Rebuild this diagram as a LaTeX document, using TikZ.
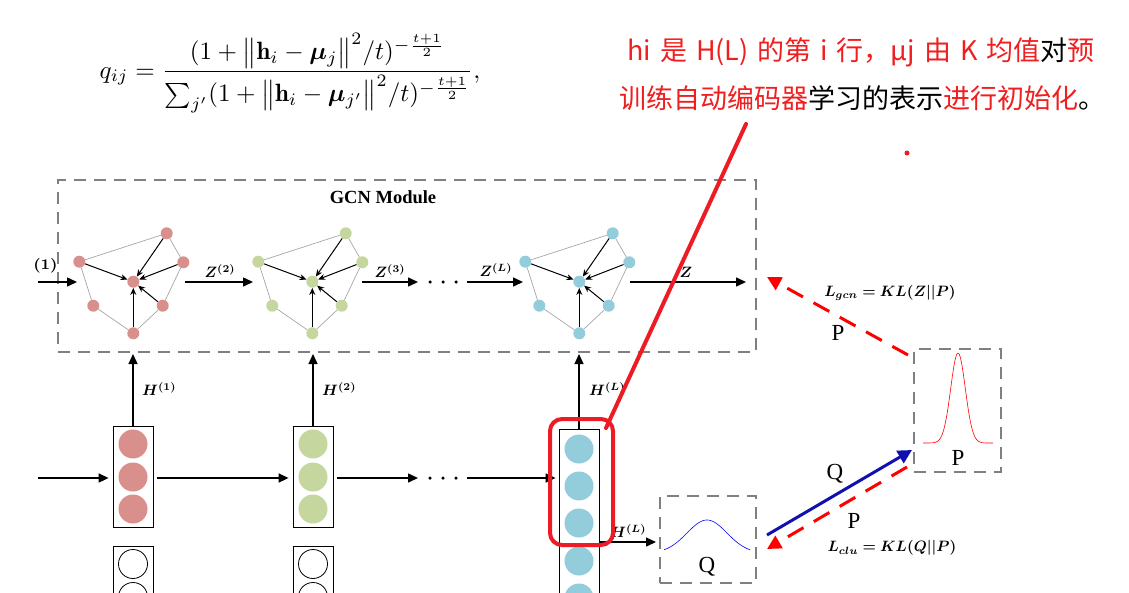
\documentclass[tikz,border=0pt]{standalone}
\usepackage{amsmath,bm,graphicx}
\usepackage{fontspec}
\newfontfamily\cjk{Noto Sans CJK SC}
\newfontfamily\tnr{Liberation Serif}
\usetikzlibrary{arrows.meta}
\definecolor{gnR}{RGB}{217,144,140}
\definecolor{gnG}{RGB}{197,215,159}
\definecolor{gnB}{RGB}{147,205,219}
\definecolor{dgray}{RGB}{128,128,128}
\definecolor{mred}{RGB}{237,28,36}
\definecolor{tred}{RGB}{240,30,30}
\definecolor{qblue}{RGB}{16,16,176}
\tikzset{
 gn/.style={circle,inner sep=0pt,minimum size=12pt,draw=none},
 gedge/.style={draw=black!35,line width=0.7pt},
 garr/.style={black,line width=1pt,-{Stealth[length=7pt,width=6pt]}},
 marr/.style={black,line width=1.5pt,-{Triangle[length=10pt,width=9pt]}},
 colbox/.style={draw=black,line width=0.8pt,fill=white,minimum width=40pt,inner sep=0pt},
 cfill/.style={circle,inner sep=0pt,minimum size=29pt},
 cempty/.style={circle,draw=black,line width=0.8pt,inner sep=0pt,minimum size=29pt},
 dbox/.style={draw=dgray,line width=2pt,dash pattern=on 12pt off 8pt,inner sep=0pt},
 lab/.style={inner sep=0pt},
 hlab/.style={inner sep=0pt,anchor=west},
 kl/.style={inner sep=0pt},
 pq/.style={inner sep=0pt,font=\tnr\fontsize{23}{26}\selectfont},
 rdash/.style={draw=red,line width=3pt,dash pattern=on 18pt off 12pt,-{Triangle[length=14pt,width=14pt]}},
 bluearr/.style={draw=qblue,line width=3pt,-{Triangle[length=14pt,width=14pt]}},
 dotn/.style={circle,fill=black,inner sep=0pt,minimum size=3.5pt},
 cjktext/.style={inner sep=0pt,anchor=west,text=tred,font=\cjk\fontsize{27}{30}\selectfont},
}
\newcommand{\gcngraph}[3]{%
 \node[gn,fill=#3] (#1t) at ({#2+166.7},233.3) {};
 \node[gn,fill=#3] (#1r) at ({#2+183.3},262.3) {};
 \node[gn,fill=#3] (#1l) at ({#2+79.3},261.7) {};
 \node[gn,fill=#3] (#1c) at ({#2+133.3},281.7) {};
 \node[gn,fill=#3] (#1bl) at ({#2+93.3},305.7) {};
 \node[gn,fill=#3] (#1br) at ({#2+162.7},305.7) {};
 \node[gn,fill=#3] (#1b) at ({#2+133.3},333.3) {};
 \draw[gedge] (#1l)--(#1t) (#1t)--(#1r) (#1r)--(#1br) (#1br)--(#1b) (#1b)--(#1bl) (#1bl)--(#1l);
 \foreach \s in {l,t,r,br,b} \draw[garr] (#1\s)--(#1c);
}
\newcommand{\wsp}{\hspace{9pt}}
\newcommand{\bml}[1]{\scalebox{1.5}{$\boldsymbol{#1}$}}
\begin{document}
\begin{tikzpicture}[x=1pt,y=-1pt]
\useasboundingbox (0,0) rectangle (1129,592);
\clip (0,0) rectangle (1129,592);

% formula
\node[inner sep=0pt] (formula) at (290,73)
 {\scalebox{2.5}{$\displaystyle q_{ij}=\frac{(1+\bigl\|\mathbf{h}_i-\boldsymbol{\mu}_j\bigr\|^2/t)^{-\frac{t+1}{2}}}{\sum\nolimits_{j'}(1+\bigl\|\mathbf{h}_i-\boldsymbol{\mu}_{j'}\bigr\|^2/t)^{-\frac{t+1}{2}}},$}};

% annotation text
\node[cjktext] (t1) at (627,52) {hi\wsp 是\wsp H(L)\wsp 的第\wsp i\wsp 行，μj\wsp 由\wsp K\wsp 均值\textcolor{black}{对}预};
\node[cjktext] (t2) at (619,98) {训练自动编码器\textcolor{black}{学习的表示}进行初始化\textcolor{black}{。}};

% GCN module box
\node[dbox,minimum width=698pt,minimum height=172pt] (gcn) at (407,266) {};
\node[inner sep=0pt,font=\tnr\bfseries\fontsize{18.5}{20}\selectfont] (gcnlab) at (383,197) {GCN Module};

\gcngraph{ga}{0}{gnR}
\gcngraph{gb}{179}{gnG}
\gcngraph{gc}{446}{gnB}

% Z arrows
\coordinate (z0s) at (38,282); \coordinate (z0e) at (77,282);
\coordinate (z1s) at (185,282); \coordinate (z1e) at (253,282);
\coordinate (z2s) at (362,282); \coordinate (z2e) at (418,282);
\coordinate (z3s) at (467,282); \coordinate (z3e) at (523,282);
\coordinate (z4s) at (630,282); \coordinate (z4e) at (746,282);
\draw[marr] (z0s)--(z0e);
\draw[marr] (z1s)--(z1e);
\draw[marr] (z2s)--(z2e);
\draw[marr] (z3s)--(z3e);
\draw[marr] (z4s)--(z4e);
\node[lab] (lz1) at (46,268) {\scalebox{2.1}{$\boldsymbol{{}^{(1)}}$}};
\node[lab] (lz2) at (220,271) {\bml{Z^{(2)}}};
\node[lab] (lz3) at (390,271) {\bml{Z^{(3)}}};
\node[lab] (lzl) at (496,270) {\bml{Z^{(L)}}};
\node[lab] (lz) at (686,272) {\bml{Z}};
\node[dotn] (ud1) at (430,282) {};
\node[dotn] (ud2) at (443,282) {};
\node[dotn] (ud3) at (456,282) {};

% column boxes
\node[colbox,minimum height=101pt] (b1) at (133,476.5) {};
\node[cfill,fill=gnR] (b1c1) at (133,444) {};
\node[cfill,fill=gnR] (b1c2) at (133,477) {};
\node[cfill,fill=gnR] (b1c3) at (133,509) {};
\node[colbox,minimum height=101pt] (b2) at (313,476.5) {};
\node[cfill,fill=gnG] (b2c1) at (313,444) {};
\node[cfill,fill=gnG] (b2c2) at (313,477) {};
\node[cfill,fill=gnG] (b2c3) at (313,509) {};
\node[colbox,minimum height=220pt,anchor=north] (b3) at (579,429) {};
\node[cfill,fill=gnB] (b3c1) at (579,449) {};
\node[cfill,fill=gnB] (b3c2) at (579,486) {};
\node[cfill,fill=gnB] (b3c3) at (579,523) {};
\node[cfill,fill=gnB] (b3c4) at (579,561) {};
\node[cfill,fill=gnB] (b3c5) at (579,598) {};
\node[colbox,minimum height=90pt,anchor=north] (b4) at (133,546) {};
\node[cempty] (b4c1) at (133,564) {};
\node[cempty] (b4c2) at (133,597) {};
\node[colbox,minimum height=90pt,anchor=north] (b5) at (313,546) {};
\node[cempty] (b5c1) at (313,564) {};
\node[cempty] (b5c2) at (313,597) {};

% H arrows up
\coordinate (h1e) at (133,354); \coordinate (h2e) at (313,354); \coordinate (h3e) at (579,354);
\draw[marr,line width=1.3pt] (b1.north)--(h1e);
\draw[marr,line width=1.3pt] (b2.north)--(h2e);
\draw[marr,line width=1.3pt] (b3.north)--(h3e);
\node[hlab] (lh1) at (142,389) {\bml{H^{(1)}}};
\node[hlab] (lh2) at (322,389) {\bml{H^{(2)}}};
\node[hlab] (lh3) at (589,389) {\bml{H^{(L)}}};

% horizontal arrows bottom row
\coordinate (r0s) at (38,478); \coordinate (r2e) at (418,478); \coordinate (r3s) at (467,478);
\draw[marr] (r0s)--([xshift=-4pt]b1.west|-r0s);
\draw[marr] ([xshift=4pt]b1.east|-r0s)--([xshift=-4pt]b2.west|-r0s);
\draw[marr] ([xshift=4pt]b2.east|-r0s)--(r2e);
\draw[marr] (r3s)--([xshift=-3pt]b3.west|-r3s);
\node[dotn] (ld1) at (430,478) {};
\node[dotn] (ld2) at (443,478) {};
\node[dotn] (ld3) at (456,478) {};

% Q box
\node[dbox,minimum width=96pt,minimum height=87pt] (qbox) at (708,539.5) {};
\draw[blue,line width=0.6pt] plot[domain=-43:43,samples=60] ({707+\x},{553-33*exp(-(\x*\x)/(2*20*20))});
\node[pq] (ql) at (707,567) {Q};
\coordinate (hq) at (599,542);
\draw[marr,line width=1.3pt] (hq)--([xshift=-3pt]qbox.west|-hq);
\node[hlab] (lhq) at (610,531) {\bml{H^{(L)}}};

% P box
\node[dbox,minimum width=87pt,minimum height=123pt] (pbox) at (957.5,410.5) {};
\draw[red,line width=0.6pt] plot[domain=-35:35,samples=80] ({958+\x},{443-90*exp(-(\x*\x)/(2*7.3*7.3))});
\node[pq] (pl) at (958,458) {P};

% KL arrows
\coordinate (pg1) at (908,355); \coordinate (pg2) at (767,277);
\draw[rdash] (pg1)--(pg2);
\node[pq] (pgl) at (838,333) {P};
\node[kl] (lgcn) at (890,293) {\bml{L_{gcn}=KL(Z||P)}};
\coordinate (qp1) at (767,535); \coordinate (qp2) at (912,450);
\draw[bluearr] (qp1)--(qp2);
\node[pq] (qpl) at (835,474) {Q};
\coordinate (pq1) at (907,467); \coordinate (pq2) at (767,549);
\draw[rdash] (pq1)--(pq2);
\node[pq] (pql) at (854,521) {P};
\node[kl] (lclu) at (892,548) {\bml{L_{clu}=KL(Q||P)}};

% red annotation
\draw[mred,line width=4pt,rounded corners=12pt] (550,419) rectangle (613,545);
\coordinate (ra) at (606,428); \coordinate (rb) at (746,124);
\draw[mred,line width=4pt,line cap=round] (ra)--(rb);
\fill[mred] (907,153) circle (2.5);
\end{tikzpicture}
\end{document}
